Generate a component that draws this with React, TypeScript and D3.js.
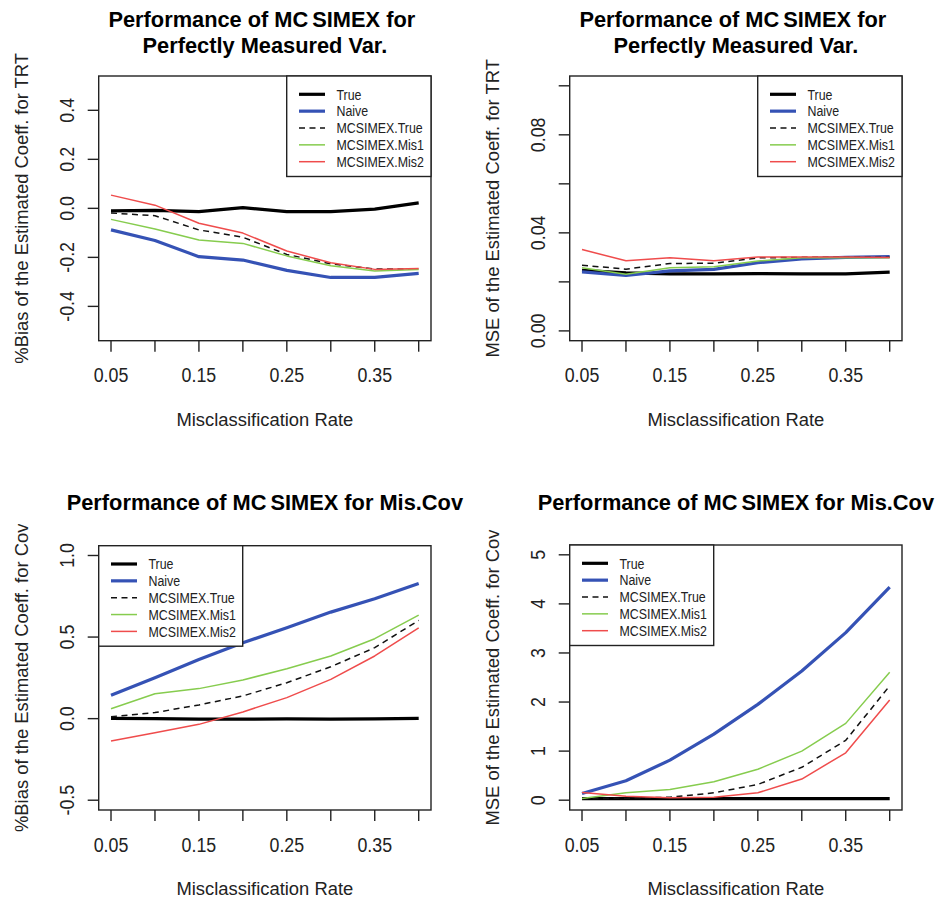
import React from "react";
import * as d3 from "d3";

// Misclassification rates on the x axis
const rates = [0.05, 0.1, 0.15, 0.2, 0.25, 0.3, 0.35, 0.4];
const xTickValues = [0.05, 0.1, 0.15, 0.2, 0.25, 0.3, 0.35, 0.4];
const xTickLabels = ["0.05", "", "0.15", "", "0.25", "", "0.35", ""];

const seriesNames = ["True", "Naive", "MCSIMEX.True", "MCSIMEX.Mis1", "MCSIMEX.Mis2"];

// %Bias of the estimated coefficient for TRT
const trtBiasTrue = [-0.01, -0.008, -0.013, 0.003, -0.013, -0.013, -0.003, 0.022];
const trtBiasNaive = [-0.088, -0.131, -0.197, -0.211, -0.253, -0.282, -0.282, -0.265];
const trtBiasMcTrue = [-0.019, -0.03, -0.088, -0.118, -0.188, -0.226, -0.248, -0.247];
const trtBiasMis1 = [-0.045, -0.084, -0.129, -0.143, -0.194, -0.234, -0.256, -0.249];
const trtBiasMis2 = [0.054, 0.013, -0.061, -0.101, -0.174, -0.222, -0.249, -0.245];

// MSE of the estimated coefficient for TRT
const trtMseTrue = [0.0247, 0.0237, 0.0233, 0.0233, 0.0234, 0.0233, 0.0233, 0.024];
const trtMseNaive = [0.0241, 0.0226, 0.0245, 0.0251, 0.0278, 0.0294, 0.03, 0.0303];
const trtMseMcTrue = [0.0268, 0.0252, 0.0275, 0.0276, 0.0298, 0.03, 0.03, 0.03];
const trtMseMis1 = [0.0258, 0.0231, 0.0258, 0.0262, 0.0285, 0.0298, 0.0298, 0.0298];
const trtMseMis2 = [0.0332, 0.0286, 0.0298, 0.0286, 0.0302, 0.0302, 0.0302, 0.0299];

// %Bias of the estimated coefficient for Cov
const covBiasTrue = [0.002, 0.0, -0.003, -0.003, -0.002, -0.003, -0.002, 0.001];
const covBiasNaive = [0.143, 0.251, 0.363, 0.465, 0.557, 0.653, 0.735, 0.829];
const covBiasMcTrue = [0.012, 0.037, 0.084, 0.139, 0.22, 0.318, 0.435, 0.602];
const covBiasMis1 = [0.061, 0.153, 0.184, 0.237, 0.306, 0.384, 0.49, 0.635];
const covBiasMis2 = [-0.137, -0.086, -0.035, 0.041, 0.129, 0.241, 0.384, 0.557];

// MSE of the estimated coefficient for Cov
const covMseTrue = [0.03, 0.03, 0.03, 0.03, 0.03, 0.03, 0.03, 0.03];
const covMseNaive = [0.136, 0.395, 0.816, 1.347, 1.952, 2.633, 3.415, 4.34];
const covMseMcTrue = [0.03, 0.04, 0.06, 0.15, 0.32, 0.67, 1.22, 2.33];
const covMseMis1 = [0.034, 0.15, 0.218, 0.374, 0.63, 1.0, 1.565, 2.605];
const covMseMis2 = [0.156, 0.08, 0.05, 0.06, 0.15, 0.43, 0.966, 2.04];

// Y axis ticks and their printed labels ("" = tick without label)
const trtBiasTicks = [-0.4, -0.2, 0, 0.2, 0.4];
const trtBiasTickLabels = ["-0.4", "-0.2", "0.0", "0.2", "0.4"];
const trtMseTicks = [0, 0.02, 0.04, 0.06, 0.08, 0.1];
const trtMseTickLabels = ["0.00", "", "0.04", "", "0.08", ""];
const covBiasTicks = [-0.5, 0, 0.5, 1.0];
const covBiasTickLabels = ["-0.5", "0.0", "0.5", "1.0"];
const covMseTicks = [0, 1, 2, 3, 4, 5];
const covMseTickLabels = ["0", "1", "2", "3", "4", "5"];

const seriesStyle = [
  { color: "#000000", width: 3.2, dash: "" },
  { color: "#3552b5", width: 3.2, dash: "" },
  { color: "#111111", width: 1.5, dash: "6,4.5" },
  { color: "#86cc4e", width: 1.5, dash: "" },
  { color: "#ef4c4c", width: 1.5, dash: "" },
];

const FONT = "'Liberation Sans', Arial, sans-serif";

type PanelCfg = {
  id: string;
  left: number;
  right: number;
  top: number;
  bottom: number;
  yRange: [number, number];
  yTicks: number[];
  yTickLabels: string[];
  yTitle: string;
  titleLines: string[];
  titleYs: number[];
  legendLeft: number;
  legendWidth: number;
  series: number[][];
  clipTop?: number;
};

const panels: PanelCfg[] = [
  {
    id: "p1",
    left: 98.7,
    right: 431,
    top: 76,
    bottom: 340.7,
    yRange: [-0.5, 0.5],
    yTicks: trtBiasTicks,
    yTickLabels: trtBiasTickLabels,
    yTitle: "%Bias of the Estimated Coeff. for TRT",
    titleLines: ["Performance of MCSIMEX for ", "Perfectly Measured Var."],
    titleYs: [18.3, 44.5],
    legendLeft: 286.7,
    legendWidth: 144.3,
    series: [trtBiasTrue, trtBiasNaive, trtBiasMcTrue, trtBiasMis1, trtBiasMis2],
  },
  {
    id: "p2",
    left: 569.7,
    right: 902,
    top: 76,
    bottom: 340.7,
    yRange: [0, 0.1],
    yTicks: trtMseTicks,
    yTickLabels: trtMseTickLabels,
    yTitle: "MSE of the Estimated Coeff. for TRT",
    titleLines: ["Performance of MCSIMEX for ", "Perfectly Measured Var."],
    titleYs: [18.3, 44.5],
    legendLeft: 757.7,
    legendWidth: 144.3,
    series: [trtMseTrue, trtMseNaive, trtMseMcTrue, trtMseMis1, trtMseMis2],
  },
  {
    id: "p3",
    left: 98.7,
    right: 431,
    top: 545.7,
    bottom: 810,
    yRange: [-0.5, 1.0],
    yTicks: covBiasTicks,
    yTickLabels: covBiasTickLabels,
    yTitle: "%Bias of the Estimated Coeff. for Cov",
    titleLines: ["Performance of MCSIMEX for Mis.Cov"],
    titleYs: [501.5],
    legendLeft: 98.7,
    legendWidth: 144,
    series: [covBiasTrue, covBiasNaive, covBiasMcTrue, covBiasMis1, covBiasMis2],
    clipTop: 524,
  },
  {
    id: "p4",
    left: 569.7,
    right: 902,
    top: 545,
    bottom: 810,
    yRange: [0, 5],
    yTicks: covMseTicks,
    yTickLabels: covMseTickLabels,
    yTitle: "MSE of the Estimated Coeff. for Cov",
    titleLines: ["Performance of MCSIMEX for Mis.Cov"],
    titleYs: [501.5],
    legendLeft: 569.7,
    legendWidth: 144,
    series: [covMseTrue, covMseNaive, covMseMcTrue, covMseMis1, covMseMis2],
  },
];

// R-style 4% axis extension
function extend([a, b]: [number, number]): [number, number] {
  const pad = (b - a) * 0.04;
  return [a - pad, b + pad];
}

// Horizontal text, glyphs drawn slightly taller than wide
function Label({
  x,
  y,
  size,
  stretch = 1,
  anchor = "middle",
  bold = false,
  children,
}: {
  x: number;
  y: number;
  size: number;
  stretch?: number;
  anchor?: string;
  bold?: boolean;
  children: React.ReactNode;
}) {
  return (
    <text
      transform={`translate(${x},${y}) scale(1,${stretch})`}
      dy="0.36em"
      textAnchor={anchor}
      fontFamily={FONT}
      fontSize={size}
      fontWeight={bold ? "bold" : "normal"}
      fill={bold ? "#000" : "#222"}
      style={{ whiteSpace: "pre" }}
    >
      {children}
    </text>
  );
}

function Title({ text, x, y }: { text: string; x: number; y: number }) {
  // "MCSIMEX" is set with a small gap after "MC"
  const idx = text.indexOf("MCSIMEX");
  return (
    <Label x={x} y={y} size={21.8} stretch={1.05} bold>
      {idx >= 0 ? (
        <>
          {text.slice(0, idx + 2)}
          <tspan dx={4}>{text.slice(idx + 2)}</tspan>
        </>
      ) : (
        text
      )}
    </Label>
  );
}

function Panel({ cfg }: { cfg: PanelCfg }) {
  const x = d3.scaleLinear().domain(extend([0.05, 0.4])).range([cfg.left, cfg.right]);
  const y = d3.scaleLinear().domain(extend(cfg.yRange)).range([cfg.bottom, cfg.top]);
  const line = d3
    .line<number>()
    .x((_, i) => x(rates[i]))
    .y((d) => y(d));
  const cx = (cfg.left + cfg.right) / 2;
  const cy = (cfg.top + cfg.bottom) / 2;
  const tickLen = 11;
  const rowGap = 16.85;
  const legendHeight = 100.5;
  const yTitleX = cfg.left - 77;

  return (
    <g>
      {cfg.clipTop !== undefined && (
        <clipPath id={`clip-${cfg.id}`}>
          <rect x={0} y={cfg.clipTop} width={cfg.left} height={902 - cfg.clipTop} />
        </clipPath>
      )}
      {cfg.titleLines.map((t, i) => (
        <Title key={i} text={t} x={cx} y={cfg.titleYs[i]} />
      ))}

      {/* series */}
      {cfg.series.map((vals, i) => (
        <path
          key={seriesNames[i]}
          d={line(vals) || ""}
          fill="none"
          stroke={seriesStyle[i].color}
          strokeWidth={seriesStyle[i].width}
          strokeDasharray={seriesStyle[i].dash || undefined}
          strokeLinejoin="round"
        />
      ))}

      {/* plot frame */}
      <rect
        x={cfg.left}
        y={cfg.top}
        width={cfg.right - cfg.left}
        height={cfg.bottom - cfg.top}
        fill="none"
        stroke="#222"
        strokeWidth={1.4}
      />

      {/* x axis */}
      {xTickValues.map((v, i) => (
        <g key={`xt${i}`}>
          <line
            x1={x(v)}
            x2={x(v)}
            y1={cfg.bottom}
            y2={cfg.bottom + tickLen}
            stroke="#222"
            strokeWidth={1.4}
          />
          {xTickLabels[i] && (
            <Label x={x(v)} y={cfg.bottom + 34.5} size={17.8} stretch={1.1}>
              {xTickLabels[i]}
            </Label>
          )}
        </g>
      ))}
      <Label x={cx} y={cfg.bottom + 78.5} size={18.4} stretch={1.02}>
        Misclassification Rate
      </Label>

      {/* y axis */}
      {cfg.yTicks.map((v, i) => (
        <g key={`yt${i}`}>
          <line
            x1={cfg.left - tickLen}
            x2={cfg.left}
            y1={y(v)}
            y2={y(v)}
            stroke="#222"
            strokeWidth={1.4}
          />
          {cfg.yTickLabels[i] && (
            <text
              transform={`translate(${cfg.left - 32},${y(v)}) rotate(-90) scale(1,1.1)`}
              dy="0.36em"
              textAnchor="middle"
              fontFamily={FONT}
              fontSize={17.8}
              fill="#222"
            >
              {cfg.yTickLabels[i]}
            </text>
          )}
        </g>
      ))}
      <g clipPath={cfg.clipTop !== undefined ? `url(#clip-${cfg.id})` : undefined}>
        <text
          transform={`translate(${yTitleX},${cy}) rotate(-90)`}
          dy="0.36em"
          textAnchor="middle"
          fontFamily={FONT}
          fontSize={18.4}
          fill="#222"
        >
          {cfg.yTitle}
        </text>
      </g>

      {/* legend */}
      <g>
        <rect
          x={cfg.legendLeft}
          y={cfg.top}
          width={cfg.legendWidth}
          height={legendHeight}
          fill="#fff"
          stroke="#222"
          strokeWidth={1.4}
        />
        {seriesNames.map((name, i) => {
          const ly = cfg.top + 18.3 + i * rowGap;
          return (
            <g key={name}>
              <line
                x1={cfg.legendLeft + 12.3}
                x2={cfg.legendLeft + 38.3}
                y1={ly}
                y2={ly}
                stroke={seriesStyle[i].color}
                strokeWidth={seriesStyle[i].width}
                strokeDasharray={seriesStyle[i].dash || undefined}
              />
              <Label x={cfg.legendLeft + 49.8} y={ly} size={12.4} stretch={1.18} anchor="start">
                {name}
              </Label>
            </g>
          );
        })}
      </g>
    </g>
  );
}

export default function App() {
  return (
    <svg
      width={937}
      height={902}
      viewBox="0 0 937 902"
      style={{ position: "absolute", left: 0, top: 0, background: "#fff" }}
    >
      <rect x={0} y={0} width={937} height={902} fill="#fff" />
      {panels.map((p) => (
        <Panel key={p.id} cfg={p} />
      ))}
    </svg>
  );
}
